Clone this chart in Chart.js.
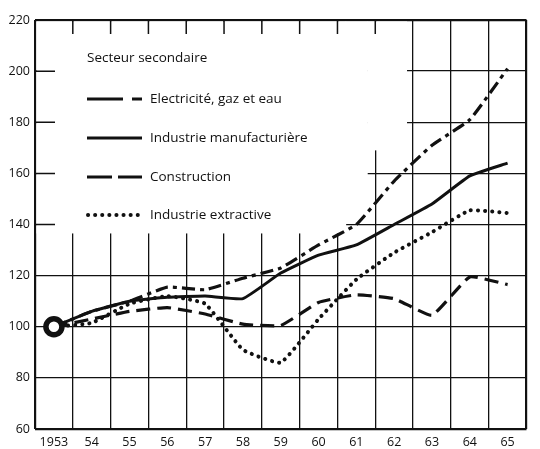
<!DOCTYPE html>
<html>
<head>
<meta charset="utf-8">
<script src="https://cdn.jsdelivr.net/npm/chart.js@4/dist/chart.umd.min.js"></script>
<style>
html,body{margin:0;padding:0;background:#fff;}
#wrap{width:540px;height:449px;}
</style>
</head>
<body>
<div id="wrap"><canvas id="c" width="540" height="449"></canvas></div>
<script>
// ---- data ----
const years = [1953,1954,1955,1956,1957,1958,1959,1960,1961,1962,1963,1964,1965];
const xLabels = ['1953','54','55','56','57','58','59','60','61','62','63','64','65'];
const electricite    = [100,106,110,115.5,114.5,119,123,132,140,157,171,181,201];
const manufacturiere = [100,106,110,111.5,112,111,121,128,132,140,148,159,164];
const construction   = [100,103,106,107.5,105,101,100.5,109.5,112.5,111,104.5,119.5,116.5];
const extractive     = [100,101.5,109,112,109,91,86,103,118.5,129,137,145.5,144.5];
const yTicks = [60,80,100,120,140,160,180,200,220];
const legendTitle = 'Secteur secondaire';
const seriesNames = ['Electricité, gaz et eau','Industrie manufacturière','Construction','Industrie extractive'];

const FONT = '"Open Sans", "DejaVu Sans", sans-serif';
const INK = '#111';

const styles = [
  {dash:[13,5,4,5], width:3.2, cap:'butt'},
  {dash:[], width:3, cap:'butt'},
  {dash:[14,7], width:3.2, cap:'butt'},
  {dash:[0.1,7], width:4, cap:'round'}
];
const seriesData = [electricite, manufacturiere, construction, extractive];

function pts(arr){ return arr.map((v,i)=>({x:years[i], y:v})); }

const datasets = [];
// origin ring (drawn on top)
datasets.push({
  label:'base', data:[{x:years[0], y:manufacturiere[0]}],
  showLine:false, pointRadius:8, pointBorderWidth:5.5,
  pointBorderColor:INK, pointBackgroundColor:'#fff'
});
seriesData.forEach((arr,k)=>{
  datasets.push({
    label:seriesNames[k], data:pts(arr),
    borderColor:INK, borderWidth:styles[k].width, borderDash:styles[k].dash,
    borderCapStyle:styles[k].cap, borderJoinStyle:'round',
    pointRadius:0, tension:0.12, fill:false
  });
});

const decor = {
  id:'decor',
  beforeDatasetsDraw(chart){
    const ctx = chart.ctx, xs = chart.scales.x, ys = chart.scales.y;
    const ca = chart.chartArea;
    const L = ca.left, T = ca.top;
    ctx.save();
    ctx.fillStyle = '#fff';
    const xa = xs.getPixelForValue(1960.73), xb = xs.getPixelForValue(1961.3), xc = xs.getPixelForValue(1962.34);
    ctx.fillRect(L+1.5, T+1.5, xa-(L+1.5), ys.getPixelForValue(136.5)-(T+1.5));
    ctx.fillRect(xa-0.5, T+1.5, xb-xa+0.5, ys.getPixelForValue(142)-(T+1.5));
    ctx.fillRect(xb-0.5, T+1.5, xc-xb+0.5, ys.getPixelForValue(169)-(T+1.5));
    // short ticks inside masked area
    ctx.strokeStyle = INK; ctx.lineWidth = 1.5;
    ctx.beginPath();
    years.forEach(y=>{
      const v = y + 0.5;
      const px = xs.getPixelForValue(v);
      if (px < xc && v < years[years.length-1]+0.5) { ctx.moveTo(px, T); ctx.lineTo(px, T+14); }
    });
    yTicks.forEach(t=>{
      if (t >= 140 && t < 220) {
        const py = ys.getPixelForValue(t);
        ctx.moveTo(L, py); ctx.lineTo(L+20, py);
      }
    });
    ctx.stroke();
    // legend
    ctx.fillStyle = INK;
    ctx.font = '13.5px ' + FONT;
    ctx.textBaseline = 'middle';
    ctx.textAlign = 'left';
    ctx.fillText(legendTitle, 87, 58);
    const rows = [99, 138, 177, 215];
    rows.forEach((ry,k)=>{
      ctx.save();
      ctx.strokeStyle = INK;
      ctx.lineWidth = styles[k].width;
      ctx.lineCap = styles[k].cap;
      ctx.setLineDash(k===0 ? [36,9,10,6] : (k===2 ? [25,6] : styles[k].dash));
      ctx.beginPath();
      ctx.moveTo(k===3 ? 88 : 87, ry);
      ctx.lineTo(142, ry);
      ctx.stroke();
      ctx.restore();
      ctx.fillText(seriesNames[k], 150, ry);
    });
    ctx.restore();
  }
};

new Chart(document.getElementById('c'), {
  type:'line',
  data:{datasets},
  plugins:[decor],
  options:{
    responsive:false, animation:false,
    layout:{padding:{top:20, right:1, left:0, bottom:0}},
    plugins:{legend:{display:false}, tooltip:{enabled:false}},
    scales:{
      x:{
        type:'linear', min:years[0]-0.5, max:years[years.length-1]+0.5,
        afterBuildTicks(scale){
          const t = [];
          years.forEach(y=>{ t.push({value:y-0.5}); t.push({value:y}); });
          t.push({value:years[years.length-1]+0.5});
          scale.ticks = t;
        },
        afterFit(scale){ scale.height = 20; },
        border:{display:false},
        grid:{
          drawTicks:false,
          color:(c)=> (c.tick && Number.isInteger(c.tick.value)) ? 'rgba(0,0,0,0)' : INK,
          lineWidth:(c)=> (c.tick && (c.tick.value===years[0]-0.5 || c.tick.value===years[years.length-1]+0.5)) ? 2.2 : 1.3
        },
        ticks:{
          autoSkip:false, maxRotation:0, padding:6, color:INK,
          font:{family:FONT, size:12.5},
          callback:(v)=>{ const i = years.indexOf(v); return i>=0 ? xLabels[i] : ''; }
        }
      },
      y:{
        type:'linear', min:yTicks[0], max:yTicks[yTicks.length-1],
        afterBuildTicks(scale){ scale.ticks = yTicks.map(v=>({value:v})); },
        afterFit(scale){ scale.width = 35; },
        border:{display:false},
        grid:{
          drawTicks:false, color:INK,
          lineWidth:(c)=> (c.tick && (c.tick.value===yTicks[0] || c.tick.value===yTicks[yTicks.length-1])) ? 2.2 : 1.3
        },
        ticks:{padding:5, color:INK, font:{family:FONT, size:12.5}}
      }
    }
  }
});
</script>
</body>
</html>
